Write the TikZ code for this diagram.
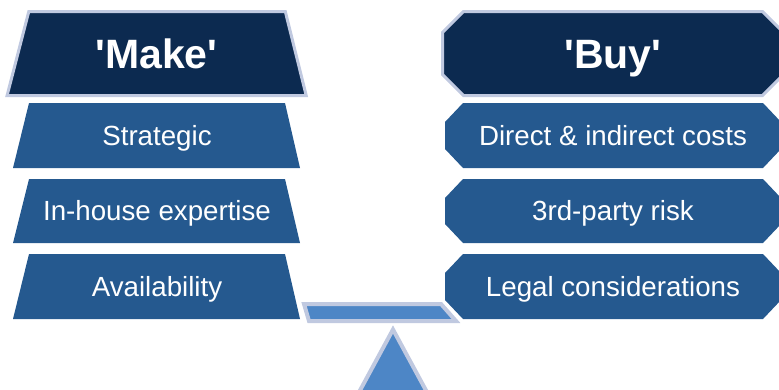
\documentclass[tikz,border=0pt]{standalone}
\usepackage{fontspec}
\setmainfont{Liberation Sans}[Ligatures=TeXOff]
\definecolor{navy}{RGB}{12,42,80}
\definecolor{itemblue}{RGB}{37,89,143}
\definecolor{plankblue}{RGB}{77,134,198}
\definecolor{rimgray}{RGB}{192,201,224}
\begin{document}
\begin{tikzpicture}[x=1pt,y=-1pt,
  headshape/.style={fill=navy,draw=rimgray,line width=3pt,line join=miter},
  itemshape/.style={fill=itemblue},
  baseshape/.style={fill=plankblue,draw=rimgray,line width=4pt,line join=miter},
  headtext/.style={text=white,font=\fontsize{41}{48}\selectfont\bfseries,anchor=base,inner sep=0pt},
  itemtext/.style={text=white,font=\fontsize{27.7}{33}\selectfont,anchor=base,inner sep=0pt}]
\useasboundingbox (0,0) rectangle (779,389);
\clip (0,0) rectangle (779,389);
% headers
\path[headshape] (28.8,11.5) -- (285.3,11.5) -- (306.2,95.5) -- (7.1,95.5) -- cycle;
\node[headtext] (make) at (156.5,68.2) {'Make'};
\path[headshape] (463.6,11.5) -- (762.4,11.5) -- (783.5,32.6) -- (783.5,74.4) -- (762.4,95.5)
  -- (463.6,95.5) -- (442.5,74.4) -- (442.5,32.6) -- cycle;
\node[headtext] (buy) at (613,68.2) {'Buy'};
% left items
\foreach \ya/\yb/\nm/\txt in {103/168/l1/Strategic,179/243/l2/In-house expertise,254/319/l3/Availability}{
  \path[itemshape] (29,\ya) -- (285,\ya) -- (300,\yb) -- (13,\yb) -- cycle;
  \node[itemtext] (\nm) at (157,{(\ya+\yb)/2+9.9}) {\txt};
}
% right items
\foreach \ya/\yb/\nm/\txt in {103/168/r1/Direct \& indirect costs,179/243/r2/3rd-party risk,254/319/r3/Legal considerations}{
  \path[itemshape] (463,\ya) -- (763,\ya) -- (781,\ya+19) -- (781,\yb-19) -- (763,\yb)
    -- (463,\yb) -- (445,\yb-19) -- (445,\ya+19) -- cycle;
  \node[itemtext] (\nm) at (613,{(\ya+\yb)/2+9.9}) {\txt};
}
% seesaw
\path[baseshape] (304,304) -- (441,304) -- (456,321) -- (309,321) -- cycle;
\path[baseshape] (393,329.5) -- (431.2,400) -- (354.8,400) -- cycle;
\end{tikzpicture}
\end{document}
